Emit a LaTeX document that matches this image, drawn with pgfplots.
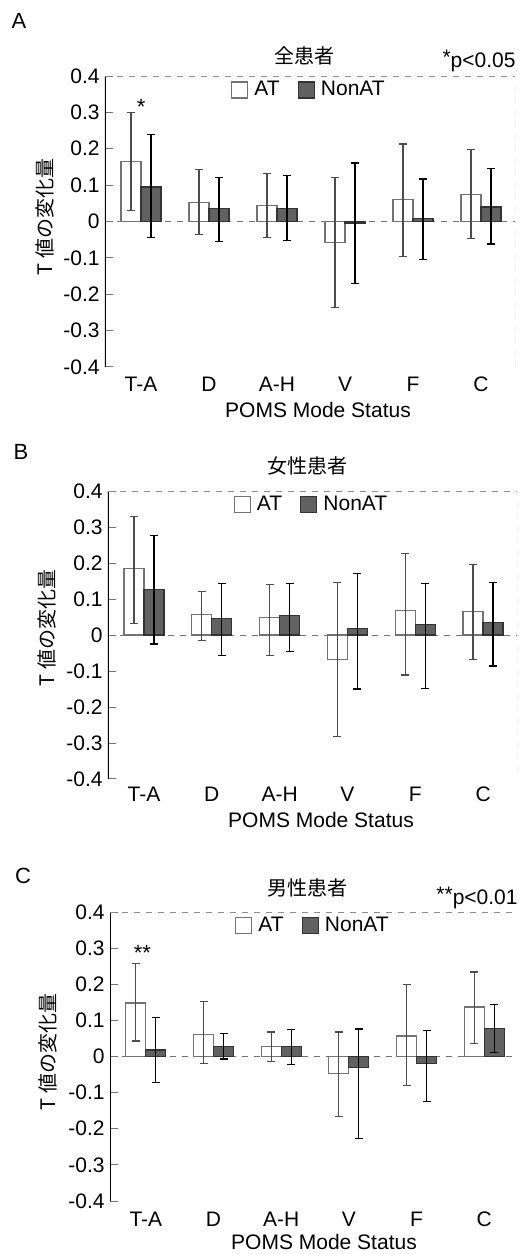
\documentclass[border=0pt]{standalone}
\usepackage{fontspec}
\setmainfont{Liberation Sans}
\newfontfamily\jp{Noto Sans CJK JP}
\usepackage{pgfplots}
\pgfplotsset{compat=1.18}

\definecolor{nonat}{gray}{0.38}

\pgfplotsset{
  poms/.style={
    scale only axis,
    anchor=north west,
    xmin=-0.53, xmax=5.5,
    ymin=-0.4, ymax=0.4,
    ytick={-0.4,-0.3,-0.2,-0.1,0,0.1,0.2,0.3,0.4},
    yticklabels={-0.4,-0.3,-0.2,-0.1,0,0.1,0.2,0.3,0.4},
    xtick={0,1,2,3,4,5},
    xticklabels={T-A,D,A-H,V,F,C},
    ybar=0pt, bar width=10pt,
    axis line style={draw=none},
    ytick pos=left, tick align=inside, major tick length=4pt,
    ytick style={black!55, line width=0.5pt},
    xtick style={draw=none},
    tick label style={font=\fontsize{10.5}{12}\selectfont},
    yticklabel style={anchor=east, inner sep=0pt, xshift=-2.5pt},
    xticklabel style={anchor=center, inner sep=0pt},
    extra y ticks={0}, extra y tick labels={},
    extra y tick style={grid=major, major grid style={dashed, black!55, line width=0.5pt}},
    legend style={at={(0.5,0.952)}, anchor=center, draw=none, fill=none,
      legend columns=2, font=\fontsize{10.5}{12}\selectfont,
      /tikz/every even column/.append style={column sep=7pt},
      /tikz/every odd column/.append style={column sep=1pt}},
    legend image code/.code={\draw[#1] (0pt,-4pt) rectangle (8pt,4pt);},
  },
  atbar/.style={fill=white, draw=black!55, line width=0.6pt,
    error bars/.cd, y dir=both, y explicit,
    error bar style={black!70, line width=0.6pt},
    error mark options={rotate=90, black!70, mark size=2pt, line width=0.6pt}},
  nonatbar/.style={fill=nonat, draw=black!80, line width=0.6pt,
    error bars/.cd, y dir=both, y explicit,
    error bar style={black, line width=0.6pt},
    error mark options={rotate=90, black, mark size=2pt, line width=0.6pt}},
}

\begin{document}
\begin{tikzpicture}
\useasboundingbox (0pt,0pt) rectangle (265pt,-627pt);

% ---------- A: all patients ----------
\begin{axis}[poms, at={(52.5pt,-38pt)}, width=205pt, height=145.5pt,
  xticklabel style={yshift=-8.5pt}]
\addplot[atbar] coordinates {
  (0, 0.165) += (0,0.135) -= (0,0.135)
  (1, 0.053) += (0,0.089) -= (0,0.089)
  (2, 0.043) += (0,0.089) -= (0,0.088)
  (3,-0.057) += (0,0.177) -= (0,0.179)
  (4, 0.061) += (0,0.152) -= (0,0.157)
  (5, 0.075) += (0,0.124) -= (0,0.122)
};
\addplot[nonatbar] coordinates {
  (0, 0.095) += (0,0.144) -= (0,0.139)
  (1, 0.036) += (0,0.084) -= (0,0.092)
  (2, 0.036) += (0,0.091) -= (0,0.089)
  (3,-0.004) += (0,0.165) -= (0,0.167)
  (4, 0.009) += (0,0.108) -= (0,0.113)
  (5, 0.040) += (0,0.105) -= (0,0.102)
};
\legend{AT, NonAT}
\draw[black, line width=0.8pt] (rel axis cs:0,0) -- (rel axis cs:0,1);
\draw[dashed, black!45, line width=0.4pt] (rel axis cs:0,1) -- (rel axis cs:1,1) -- (rel axis cs:1,0) -- (rel axis cs:0,0);
\node[font=\fontsize{11}{12}\selectfont, inner sep=0pt] at (axis cs:0,0.315) {*};
\end{axis}

% ---------- B: female patients ----------
\begin{axis}[poms, at={(54pt,-245.5pt)}, width=204.5pt, height=144pt,
  xticklabel style={yshift=-7.5pt}]
\addplot[atbar] coordinates {
  (0, 0.185) += (0,0.145) -= (0,0.152)
  (1, 0.057) += (0,0.063) -= (0,0.073)
  (2, 0.048) += (0,0.093) -= (0,0.104)
  (3,-0.068) += (0,0.214) -= (0,0.214)
  (4, 0.067) += (0,0.160) -= (0,0.178)
  (5, 0.065) += (0,0.131) -= (0,0.132)
};
\addplot[nonatbar] coordinates {
  (0, 0.127) += (0,0.150) -= (0,0.152)
  (1, 0.045) += (0,0.097) -= (0,0.101)
  (2, 0.054) += (0,0.088) -= (0,0.100)
  (3, 0.017) += (0,0.154) -= (0,0.167)
  (4, 0.030) += (0,0.112) -= (0,0.178)
  (5, 0.035) += (0,0.110) -= (0,0.121)
};
\legend{AT, NonAT}
\draw[black, line width=0.8pt] (rel axis cs:0,0) -- (rel axis cs:0,1);
\draw[dashed, black!45, line width=0.4pt] (rel axis cs:0,1) -- (rel axis cs:1,1) -- (rel axis cs:1,0) -- (rel axis cs:0,0);
\end{axis}

% ---------- C: male patients ----------
\begin{axis}[poms, at={(55pt,-456pt)}, width=204pt, height=144.5pt,
  xticklabel style={yshift=-9pt}]
\addplot[atbar] coordinates {
  (0, 0.148) += (0,0.110) -= (0,0.105)
  (1, 0.062) += (0,0.090) -= (0,0.082)
  (2, 0.027) += (0,0.041) -= (0,0.040)
  (3,-0.047) += (0,0.115) -= (0,0.120)
  (4, 0.057) += (0,0.143) -= (0,0.137)
  (5, 0.137) += (0,0.097) -= (0,0.100)
};
\addplot[nonatbar] coordinates {
  (0, 0.018) += (0,0.090) -= (0,0.090)
  (1, 0.028) += (0,0.035) -= (0,0.035)
  (2, 0.027) += (0,0.048) -= (0,0.050)
  (3,-0.031) += (0,0.107) -= (0,0.196)
  (4,-0.020) += (0,0.093) -= (0,0.105)
  (5, 0.078) += (0,0.067) -= (0,0.067)
};
\legend{AT, NonAT}
\draw[black, line width=0.8pt] (rel axis cs:0,0) -- (rel axis cs:0,1);
\draw[dashed, black!45, line width=0.4pt] (rel axis cs:0,1) -- (rel axis cs:1,1) -- (rel axis cs:1,0);
\node[font=\fontsize{11}{12}\selectfont, inner sep=0pt] at (axis cs:-0.05,0.288) {**};
\end{axis}

% ---------- panel letters, titles, labels ----------
\begin{scope}[every node/.style={inner sep=0pt}]
\node[font=\fontsize{11}{12}\selectfont] at (9.5pt,-10.5pt) {A};
\node[font=\fontsize{11}{12}\selectfont] at (10.5pt,-226pt) {B};
\node[font=\fontsize{11}{12}\selectfont] at (11.5pt,-438pt) {C};

\node[font=\jp\fontsize{10}{12}\selectfont] at (152pt,-28pt) {全患者};
\node[font=\jp\fontsize{10}{12}\selectfont] at (153.5pt,-233pt) {女性患者};
\node[font=\jp\fontsize{10}{12}\selectfont] at (153.5pt,-444pt) {男性患者};

\node[font=\fontsize{10.5}{12}\selectfont] at (239.5pt,-30.5pt) {\raisebox{0.12em}{*}p<0.05};
\node[font=\fontsize{10.5}{12}\selectfont] at (238.5pt,-449pt) {\raisebox{0.12em}{**}p<0.01};

\node[font=\jp\fontsize{10}{12}\selectfont, rotate=90] at (22.5pt,-108.5pt) {T 値の変化量};
\node[font=\jp\fontsize{10}{12}\selectfont, rotate=90] at (23.5pt,-314pt) {T 値の変化量};
\node[font=\jp\fontsize{10}{12}\selectfont, rotate=90] at (24pt,-526pt) {T 値の変化量};

\node[font=\fontsize{10.5}{12}\selectfont] at (159pt,-205pt) {POMS Mode Status};
\node[font=\fontsize{10.5}{12}\selectfont] at (160.5pt,-409.75pt) {POMS Mode Status};
\node[font=\fontsize{10.5}{12}\selectfont] at (162pt,-621pt) {POMS Mode Status};
\end{scope}
\end{tikzpicture}
\end{document}
